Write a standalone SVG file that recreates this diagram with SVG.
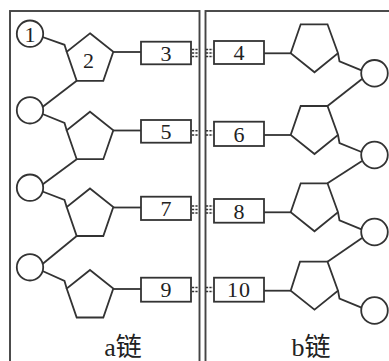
<svg xmlns="http://www.w3.org/2000/svg" width="389" height="361" viewBox="0 0 389 361">
<style>
.ln{stroke:#333;stroke-width:1.8;fill:none;stroke-linejoin:miter}
.shape{stroke:#333;stroke-width:1.8;fill:#fff}
.frame{stroke:#444;stroke-width:1.9;fill:none}
.hb{stroke:#333;stroke-width:1.5;stroke-dasharray:2.2 1.2;fill:none}
.num{font-family:"Liberation Serif","DejaVu Serif",serif;font-size:22px;fill:#222;text-anchor:middle}
.lbl{font-family:"Liberation Serif","Noto Sans CJK SC",serif;font-size:26px;fill:#222;text-anchor:middle}
</style>
<rect width="389" height="361" fill="#fff"/>
<g id="chain-a-frame"><rect class="frame" x="10" y="11" width="189.5" height="370"/></g>
<g id="chain-b-frame"><rect class="frame" x="205.5" y="11" width="200" height="370"/></g>

<g id="connectors">
  <!-- left chain -->
  <path class="ln" d="M42.5,37 L64.5,44.8 L66.7,51.8"/>
  <path class="ln" d="M76.7,80.8 L42.5,107"/>
  <path class="ln" d="M42.5,114 L64.5,123 L66.7,130.2"/>
  <path class="ln" d="M76.7,159.2 L42.5,184.5"/>
  <path class="ln" d="M42.5,191.5 L64.5,200 L66.7,207"/>
  <path class="ln" d="M76.7,236 L42.5,264"/>
  <path class="ln" d="M42.5,271 L64.5,281 L66.7,288.5"/>
  <path class="ln" d="M113.3,52 H141"/>
  <path class="ln" d="M113.3,130.5 H141"/>
  <path class="ln" d="M113.3,207.5 H141"/>
  <path class="ln" d="M113.3,289 H141"/>
  <!-- right chain -->
  <path class="ln" d="M264,53.3 H290.7"/>
  <path class="ln" d="M264,135 H290.7"/>
  <path class="ln" d="M264,212.3 H290.7"/>
  <path class="ln" d="M264,290.7 H290.7"/>
  <path class="ln" d="M338,53.3 L339.5,61.3 L361.5,70.3"/>
  <path class="ln" d="M338,135 L339.5,143 L361.5,152"/>
  <path class="ln" d="M338,212.3 L339.5,220.3 L361.5,229.3"/>
  <path class="ln" d="M338,290.7 L339.5,298.7 L361.5,307.7"/>
  <path class="ln" d="M362,79 L327.5,106"/>
  <path class="ln" d="M362,161 L327.5,183.3"/>
  <path class="ln" d="M362,238 L327.5,261.7"/>
  <!-- hydrogen bonds -->
  <path class="hb" d="M192,49.5 H198.5 M206,49.5 H213 M192,53 H198.5 M206,53 H213 M192,56.5 H198.5 M206,56.5 H213"/>
  <path class="hb" d="M192,130.8 H198.5 M206,130.8 H213 M192,135 H198.5 M206,135 H213"/>
  <path class="hb" d="M192,206 H198.5 M206,206 H213 M192,209.5 H198.5 M206,209.5 H213 M192,213 H198.5 M206,213 H213"/>
  <path class="hb" d="M192,287.5 H198.5 M206,287.5 H213 M192,291.5 H198.5 M206,291.5 H213"/>
</g>

<!-- left chain nodes -->
<g id="phosphate-1"><circle class="shape" cx="30" cy="33.7" r="13.2"/><text class="num" x="30" y="41.5">1</text></g>
<g id="sugar-2"><polygon class="shape" points="90,33.3 113.3,51.8 103.3,80.8 76.7,80.8 66.7,51.8"/><text class="num" x="88.5" y="68">2</text></g>
<g id="base-3"><rect class="shape" x="141" y="41.7" width="50" height="22.6"/><text class="num" x="166" y="60.8">3</text></g>
<g id="phosphate-a2"><circle class="shape" cx="30" cy="110.3" r="13.2"/></g>
<g id="sugar-a2"><polygon class="shape" points="90,111.7 113.3,130.2 103.3,159.2 76.7,159.2 66.7,130.2"/></g>
<g id="base-5"><rect class="shape" x="141" y="120" width="50" height="22.7"/><text class="num" x="166" y="139">5</text></g>
<g id="phosphate-a3"><circle class="shape" cx="30" cy="187.7" r="13.2"/></g>
<g id="sugar-a3"><polygon class="shape" points="90,188.5 113.3,207 103.3,236 76.7,236 66.7,207"/></g>
<g id="base-7"><rect class="shape" x="141" y="196.7" width="50" height="23.3"/><text class="num" x="166" y="216">7</text></g>
<g id="phosphate-a4"><circle class="shape" cx="30" cy="267.3" r="13.2"/></g>
<g id="sugar-a4"><polygon class="shape" points="90,270 113.3,288.5 103.3,317.5 76.7,317.5 66.7,288.5"/></g>
<g id="base-9"><rect class="shape" x="141" y="277.7" width="50" height="24"/><text class="num" x="166" y="297.3">9</text></g>

<!-- right chain nodes -->
<g id="base-4"><rect class="shape" x="214" y="41" width="50" height="23"/><text class="num" x="239" y="60.3">4</text></g>
<g id="sugar-b1"><polygon class="shape" points="300.7,24.3 327.5,24.3 338,53.3 314.5,72.3 290.7,53.3"/></g>
<g id="phosphate-b1"><circle class="shape" cx="374.5" cy="73.3" r="13.3"/></g>
<g id="base-6"><rect class="shape" x="214" y="121.7" width="50" height="24.3"/><text class="num" x="239" y="141.8">6</text></g>
<g id="sugar-b2"><polygon class="shape" points="300.7,106 327.5,106 338,135 314.5,154 290.7,135"/></g>
<g id="phosphate-b2"><circle class="shape" cx="374.5" cy="155" r="13.3"/></g>
<g id="base-8"><rect class="shape" x="214" y="199" width="50" height="23.7"/><text class="num" x="239" y="218.8">8</text></g>
<g id="sugar-b3"><polygon class="shape" points="300.7,183.3 327.5,183.3 338,212.3 314.5,231.3 290.7,212.3"/></g>
<g id="phosphate-b3"><circle class="shape" cx="374.5" cy="232" r="13.3"/></g>
<g id="base-10"><rect class="shape" x="214" y="277.7" width="50" height="24"/><text class="num" x="239" y="297.3" letter-spacing="1">10</text></g>
<g id="sugar-b4"><polygon class="shape" points="300,261.7 327.5,261.7 338,290.7 314.5,309.7 290.7,290.7"/></g>
<g id="phosphate-b4"><circle class="shape" cx="374.5" cy="310.5" r="13.3"/></g>

<g id="labels">
  <text class="lbl" x="123" y="356">a链</text>
  <text class="lbl" x="311" y="356">b链</text>
</g>
</svg>
